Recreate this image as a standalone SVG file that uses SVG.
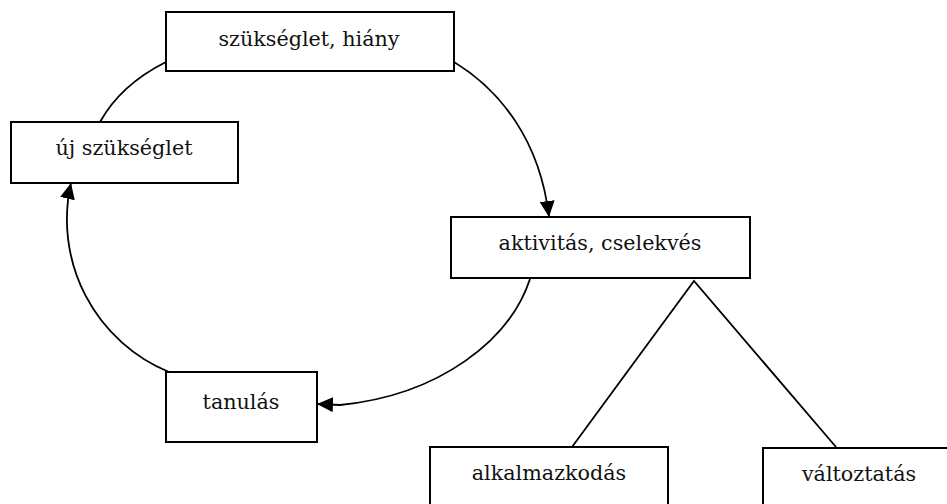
<svg xmlns="http://www.w3.org/2000/svg" width="947" height="504" viewBox="0 0 947 504">
<style>
.box{fill:#fff;stroke:#000;stroke-width:2}
.lbl{font-family:"DejaVu Serif","Liberation Serif",serif;font-size:20.7px;fill:#111;text-anchor:middle}
.con{fill:none;stroke:#000;stroke-width:1.8}
</style>
<defs>
<marker id="ah" markerUnits="userSpaceOnUse" viewBox="0 0 16 15" refX="16" refY="7.5" markerWidth="16" markerHeight="15" orient="auto">
<path d="M0,0 L16,7.5 L0,15 z" fill="#000"/>
</marker>
</defs>
<rect width="947" height="504" fill="#fff"/>
<g id="connectors">
<path class="con" d="M166,62 C140,75 115,95 100,122"/>
<path class="con" d="M454,62 C500,90 540,140 549,217" marker-end="url(#ah)"/>
<path class="con" d="M530,279 C510,340 440,395 340,405 L317,404" marker-end="url(#ah)"/>
<path class="con" d="M169,372 A165,165 0 0 1 71,183" marker-end="url(#ah)"/>
<path class="con" d="M572,447 L694,281 L836,447"/>
</g>
<g id="node-szukseglet">
<rect class="box" x="166" y="12" width="288" height="59"/>
<text class="lbl" x="309" y="46">szükséglet, hiány</text>
</g>
<g id="node-uj">
<rect class="box" x="11" y="122" width="227" height="61"/>
<text class="lbl" x="124" y="155">új szükséglet</text>
</g>
<g id="node-aktivitas">
<rect class="box" x="451" y="217" width="299" height="61"/>
<text class="lbl" x="600" y="250">aktivitás, cselekvés</text>
</g>
<g id="node-tanulas">
<rect class="box" x="166" y="372" width="151" height="70"/>
<text class="lbl" x="241" y="409">tanulás</text>
</g>
<g id="node-alkalmazkodas">
<rect class="box" x="430" y="447" width="238" height="80"/>
<text class="lbl" x="549" y="480">alkalmazkodás</text>
</g>
<g id="node-valtoztatas">
<rect class="box" x="763" y="448" width="200" height="80"/>
<text class="lbl" x="859" y="481">változtatás</text>
</g>
</svg>
